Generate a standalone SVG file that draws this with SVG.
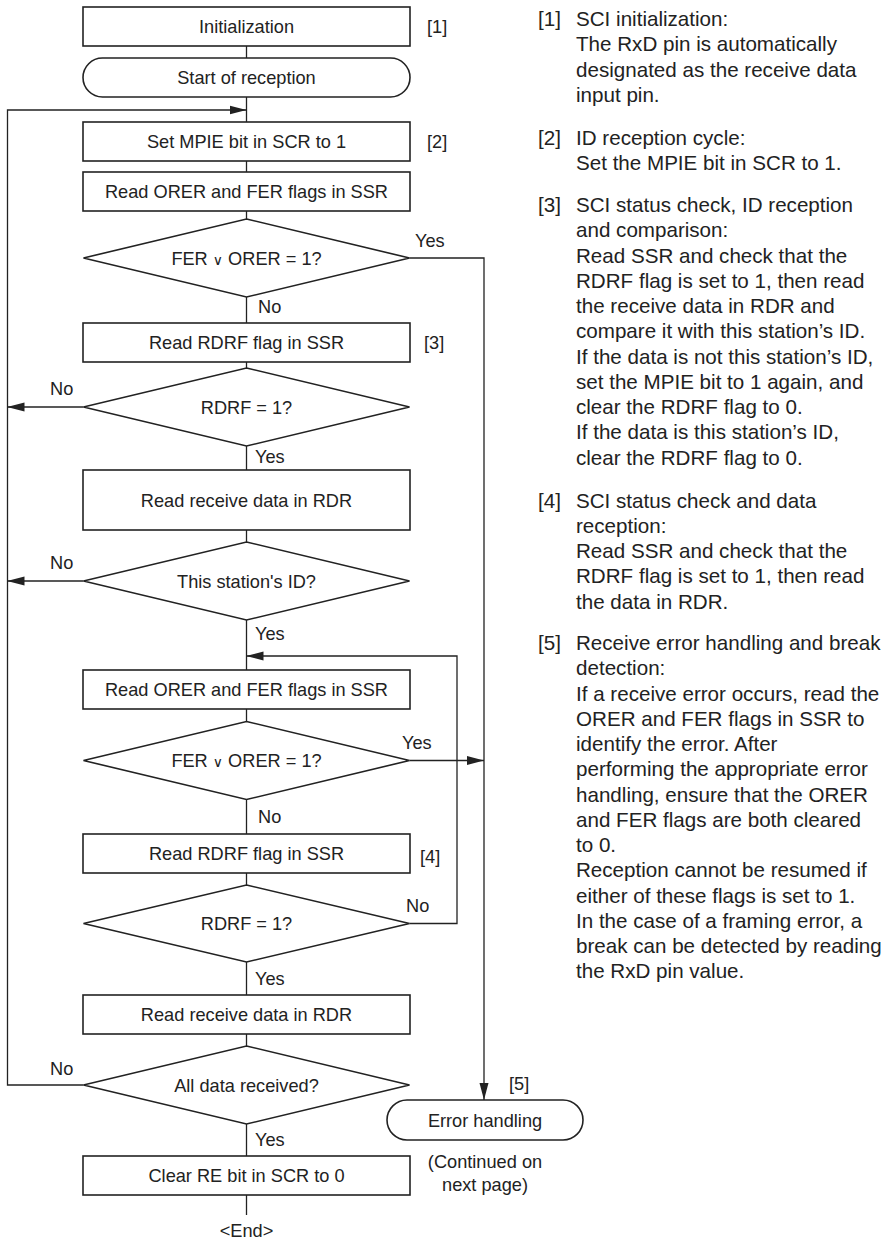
<svg xmlns="http://www.w3.org/2000/svg" width="889" height="1239" viewBox="0 0 889 1239">
<style>
.box{fill:#fff;stroke:#222;stroke-width:1.6}
.ln{fill:none;stroke:#222;stroke-width:1.3}
.t{font-family:"Liberation Sans",Arial,sans-serif;font-size:18.2px;fill:#222}
.c{text-anchor:middle}
.r{font-family:"Liberation Sans",Arial,sans-serif;font-size:20.6px;fill:#222}
.or{font-family:"DejaVu Sans",sans-serif;font-size:14px}
</style>
<defs>
<marker id="ah" markerUnits="userSpaceOnUse" markerWidth="17" markerHeight="10" refX="17" refY="5" orient="auto">
<path d="M0,0.5 L17,5 L0,9.5 z" fill="#222"/>
</marker>
</defs>
<rect width="889" height="1239" fill="#fff"/>
<g id="connectors">
<line class="ln" x1="246.5" y1="46" x2="246.5" y2="58"/>
<line class="ln" x1="246.5" y1="97" x2="246.5" y2="122"/>
<polyline class="ln" points="83.5,1085 7.5,1085 7.5,110 246.5,110" marker-end="url(#ah)"/>
<line class="ln" x1="246.5" y1="161" x2="246.5" y2="172"/>
<line class="ln" x1="246.5" y1="211" x2="246.5" y2="219"/>
<line class="ln" x1="246.5" y1="297" x2="246.5" y2="323"/>
<line class="ln" x1="246.5" y1="362" x2="246.5" y2="368"/>
<line class="ln" x1="83.5" y1="407" x2="7.5" y2="407" marker-end="url(#ah)"/>
<line class="ln" x1="246.5" y1="446" x2="246.5" y2="470"/>
<line class="ln" x1="246.5" y1="530" x2="246.5" y2="542"/>
<line class="ln" x1="83.5" y1="581" x2="7.5" y2="581" marker-end="url(#ah)"/>
<line class="ln" x1="246.5" y1="620" x2="246.5" y2="670"/>
<polyline class="ln" points="409.5,923.5 457,923.5 457,656 246.5,656" marker-end="url(#ah)"/>
<line class="ln" x1="246.5" y1="709" x2="246.5" y2="721.5"/>
<line class="ln" x1="409.5" y1="760.5" x2="484" y2="760.5" marker-end="url(#ah)"/>
<polyline class="ln" points="409.5,258 484,258 484,1100" marker-end="url(#ah)"/>
<line class="ln" x1="246.5" y1="799.5" x2="246.5" y2="834"/>
<line class="ln" x1="246.5" y1="873" x2="246.5" y2="885"/>
<line class="ln" x1="246.5" y1="962" x2="246.5" y2="995"/>
<line class="ln" x1="246.5" y1="1034" x2="246.5" y2="1046"/>
<line class="ln" x1="246.5" y1="1124" x2="246.5" y2="1156"/>
<line class="ln" x1="246.5" y1="1195" x2="246.5" y2="1215"/>
<text class="t" x="415" y="246.5">Yes</text>
<text class="t" x="258" y="313">No</text>
<text class="t" x="50" y="394.5">No</text>
<text class="t" x="255" y="463">Yes</text>
<text class="t" x="50" y="569">No</text>
<text class="t" x="255" y="639.5">Yes</text>
<text class="t" x="402" y="749">Yes</text>
<text class="t" x="258" y="822.5">No</text>
<text class="t" x="406" y="912">No</text>
<text class="t" x="255" y="985">Yes</text>
<text class="t" x="50" y="1074.5">No</text>
<text class="t" x="255" y="1145.5">Yes</text>
</g>
<g id="n-init"><rect class="box" x="83" y="7" width="327" height="39"/><text class="t c" x="246.5" y="33">Initialization</text><text class="t" x="427" y="33">[1]</text></g>
<g id="n-start"><rect class="box" x="83" y="58" width="327" height="39" rx="19.5"/><text class="t c" x="246.5" y="84">Start of reception</text></g>
<g id="n-mpie"><rect class="box" x="83" y="122" width="327" height="39"/><text class="t c" x="246.5" y="148">Set MPIE bit in SCR to 1</text><text class="t" x="427" y="148">[2]</text></g>
<g id="n-orer1"><rect class="box" x="83" y="172" width="327" height="39"/><text class="t c" x="246.5" y="198">Read ORER and FER flags in SSR</text></g>
<g id="n-d1"><polygon class="box" points="246.5,219 409.5,258 246.5,297 83.5,258"/><text class="t c" x="246.5" y="264.5">FER <tspan class="or">∨</tspan> ORER = 1?</text></g>
<g id="n-rdrf1"><rect class="box" x="83" y="323" width="327" height="39"/><text class="t c" x="246.5" y="349">Read RDRF flag in SSR</text><text class="t" x="424" y="349">[3]</text></g>
<g id="n-d2"><polygon class="box" points="246.5,368 409.5,407 246.5,446 83.5,407"/><text class="t c" x="246.5" y="413.5">RDRF = 1?</text></g>
<g id="n-rdr1"><rect class="box" x="83" y="470" width="327" height="60"/><text class="t c" x="246.5" y="506.5">Read receive data in RDR</text></g>
<g id="n-d3"><polygon class="box" points="246.5,542 409.5,581 246.5,620 83.5,581"/><text class="t c" x="246.5" y="587.5">This station's ID?</text></g>
<g id="n-orer2"><rect class="box" x="83" y="670" width="327" height="39"/><text class="t c" x="246.5" y="696">Read ORER and FER flags in SSR</text></g>
<g id="n-d4"><polygon class="box" points="246.5,721.5 409.5,760.5 246.5,799.5 83.5,760.5"/><text class="t c" x="246.5" y="767">FER <tspan class="or">∨</tspan> ORER = 1?</text></g>
<g id="n-rdrf2"><rect class="box" x="83" y="834" width="327" height="39"/><text class="t c" x="246.5" y="860">Read RDRF flag in SSR</text><text class="t" x="420" y="863">[4]</text></g>
<g id="n-d5"><polygon class="box" points="246.5,885 409.5,923.5 246.5,962 83.5,923.5"/><text class="t c" x="246.5" y="930">RDRF = 1?</text></g>
<g id="n-rdr2"><rect class="box" x="83" y="995" width="327" height="39"/><text class="t c" x="246.5" y="1021">Read receive data in RDR</text></g>
<g id="n-d6"><polygon class="box" points="246.5,1046 409.5,1085 246.5,1124 83.5,1085"/><text class="t c" x="246.5" y="1091.5">All data received?</text></g>
<g id="n-clear"><rect class="box" x="83" y="1156" width="327" height="39"/><text class="t c" x="246.5" y="1182">Clear RE bit in SCR to 0</text></g>
<g id="n-end"><text class="t c" x="246.5" y="1237">&lt;End&gt;</text></g>
<g id="n-err"><rect class="box" x="387" y="1100" width="196" height="40" rx="20"/><text class="t c" x="485" y="1126.5">Error handling</text><text class="t" x="509" y="1089.5">[5]</text><text class="t c" x="485" y="1168">(Continued on</text><text class="t c" x="485" y="1190.5">next page)</text></g>
<g id="notes" class="r">
<text x="538" y="26">[1]</text>
<text x="576" y="26">SCI initialization:</text>
<text x="576" y="51.3">The RxD pin is automatically</text>
<text x="576" y="76.5">designated as the receive data</text>
<text x="576" y="101.8">input pin.</text>
<text x="538" y="144.5">[2]</text>
<text x="576" y="144.5">ID reception cycle:</text>
<text x="576" y="169.75">Set the MPIE bit in SCR to 1.</text>
<text x="538" y="212">[3]</text>
<text x="576" y="212">SCI status check, ID reception</text>
<text x="576" y="237.25">and comparison:</text>
<text x="576" y="262.5">Read SSR and check that the</text>
<text x="576" y="287.75">RDRF flag is set to 1, then read</text>
<text x="576" y="313">the receive data in RDR and</text>
<text x="576" y="338.25">compare it with this station’s ID.</text>
<text x="576" y="363.5">If the data is not this station’s ID,</text>
<text x="576" y="388.75">set the MPIE bit to 1 again, and</text>
<text x="576" y="414">clear the RDRF flag to 0.</text>
<text x="576" y="439.25">If the data is this station’s ID,</text>
<text x="576" y="464.5">clear the RDRF flag to 0.</text>
<text x="538" y="507.5">[4]</text>
<text x="576" y="507.5">SCI status check and data</text>
<text x="576" y="532.75">reception:</text>
<text x="576" y="558">Read SSR and check that the</text>
<text x="576" y="583.25">RDRF flag is set to 1, then read</text>
<text x="576" y="608.5">the data in RDR.</text>
<text x="538" y="650">[5]</text>
<text x="576" y="650">Receive error handling and break</text>
<text x="576" y="675.25">detection:</text>
<text x="576" y="700.5">If a receive error occurs, read the</text>
<text x="576" y="725.75">ORER and FER flags in SSR to</text>
<text x="576" y="751">identify the error. After</text>
<text x="576" y="776.25">performing the appropriate error</text>
<text x="576" y="801.5">handling, ensure that the ORER</text>
<text x="576" y="826.75">and FER flags are both cleared</text>
<text x="576" y="852">to 0.</text>
<text x="576" y="877.25">Reception cannot be resumed if</text>
<text x="576" y="902.5">either of these flags is set to 1.</text>
<text x="576" y="927.75">In the case of a framing error, a</text>
<text x="576" y="953">break can be detected by reading</text>
<text x="576" y="978.25">the RxD pin value.</text>
</g>
</svg>
